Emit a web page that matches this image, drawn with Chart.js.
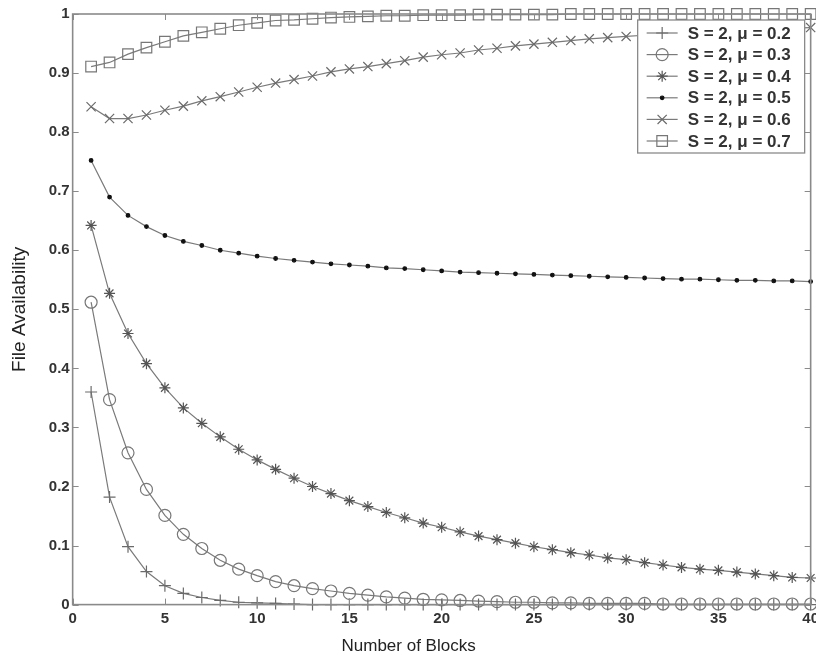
<!DOCTYPE html>
<html>
<head>
<meta charset="utf-8">
<style>
html, body { margin: 0; padding: 0; background: #fff; overflow: hidden; }
#wrap { width: 824px; height: 662px; }
</style>
</head>
<body>

<div id="wrap"><canvas id="myChart"></canvas></div>

<script src="https://cdn.jsdelivr.net/npm/chart.js"></script>
<script>
// data
let blocks = [1,2,3,4,5,6,7,8,9,10,11,12,13,14,15,16,17,18,19,20,
              21,22,23,24,25,26,27,28,29,30,31,32,33,34,35,36,37,38,39,40];

let mu02 = [0.360,0.182,0.098,0.056,0.032,0.019,0.012,0.007,0.004,0.003,
            0.002,0.001,0,0,0,0,0,0,0,0,
            0,0,0,0,0,0,0,0,0,0,
            0,0,0,0,0,0,0,0,0,0];
let mu03 = [0.512,0.347,0.257,0.195,0.151,0.119,0.095,0.075,0.060,0.049,
            0.039,0.032,0.027,0.023,0.019,0.016,0.013,0.011,0.009,0.008,
            0.007,0.006,0.005,0.004,0.004,0.003,0.003,0.002,0.002,0.002,
            0.002,0.001,0.001,0.001,0.001,0.001,0.001,0.001,0.001,0.001];
let mu04 = [0.642,0.527,0.459,0.408,0.367,0.333,0.307,0.284,0.263,0.245,
            0.229,0.214,0.200,0.188,0.176,0.166,0.156,0.147,0.138,0.131,
            0.123,0.116,0.110,0.104,0.098,0.093,0.088,0.084,0.079,0.076,
            0.071,0.067,0.063,0.060,0.058,0.055,0.052,0.049,0.046,0.045];
let mu05 = [0.752,0.690,0.659,0.640,0.625,0.615,0.608,0.600,0.595,0.590,
            0.586,0.583,0.580,0.577,0.575,0.573,0.570,0.569,0.567,0.565,
            0.563,0.562,0.561,0.560,0.559,0.558,0.557,0.556,0.555,0.554,
            0.553,0.552,0.551,0.551,0.550,0.549,0.549,0.548,0.548,0.547];
let mu06 = [0.843,0.823,0.823,0.829,0.837,0.844,0.853,0.860,0.868,0.876,
            0.883,0.889,0.895,0.902,0.907,0.911,0.916,0.921,0.927,0.931,
            0.934,0.939,0.942,0.946,0.949,0.952,0.955,0.958,0.960,0.962,
            0.964,0.966,0.968,0.969,0.971,0.972,0.973,0.975,0.976,0.977];
let mu07 = [0.911,0.918,0.932,0.943,0.953,0.963,0.969,0.975,0.981,0.985,
            0.989,0.990,0.992,0.994,0.995,0.996,0.997,0.997,0.998,0.998,
            0.998,0.999,0.999,0.999,0.999,0.999,1,1,1,1,
            1,1,1,1,1,1,1,1,1,1];

let seriesNames = ['S = 2, \u03bc = 0.2', 'S = 2, \u03bc = 0.3', 'S = 2, \u03bc = 0.4',
                   'S = 2, \u03bc = 0.5', 'S = 2, \u03bc = 0.6', 'S = 2, \u03bc = 0.7'];

let xTicks = [0,5,10,15,20,25,30,35,40];
let yTicks = [0,0.1,0.2,0.3,0.4,0.5,0.6,0.7,0.8,0.9,1];
let yTickLabels = ['0','0.1','0.2','0.3','0.4','0.5','0.6','0.7','0.8','0.9','1'];

const FONT = '"Liberation Sans", Arial, Helvetica, sans-serif';
const GREY = '#7a7a7a';

function pts(arr) {
    return blocks.map((b, i) => ({ x: b, y: arr[i] }));
}

function series(name, arr, style, radius, color, fill) {
    return {
        label: name,
        data: pts(arr),
        showLine: true,
        borderColor: GREY,
        borderWidth: 1.2,
        tension: 0,
        pointStyle: style,
        pointRadius: radius,
        pointBorderColor: color,
        pointBackgroundColor: fill || 'rgba(0,0,0,0)',
        pointBorderWidth: 1.2,
        clip: 10
    };
}

// MATLAB-like box, inward ticks and a legend inside the axes
const matlabAxes = {
    id: 'matlabAxes',
    afterDatasetsDraw(chart) {
        const ctx = chart.ctx;
        const a = chart.chartArea;
        const xs = chart.scales.x, ys = chart.scales.y;
        ctx.save();
        ctx.strokeStyle = '#8a8a8a';
        ctx.lineWidth = 1.6;
        ctx.strokeRect(a.left, a.top, a.right - a.left, a.bottom - a.top);
        ctx.lineWidth = 1;
        const t = 6;
        ctx.beginPath();
        xTicks.forEach(v => {
            const px = Math.round(xs.getPixelForValue(v)) + 0.5;
            ctx.moveTo(px, a.bottom); ctx.lineTo(px, a.bottom - t);
            ctx.moveTo(px, a.top); ctx.lineTo(px, a.top + t);
        });
        yTicks.forEach(v => {
            const py = Math.round(ys.getPixelForValue(v)) + 0.5;
            ctx.moveTo(a.left, py); ctx.lineTo(a.left + t, py);
            ctx.moveTo(a.right, py); ctx.lineTo(a.right - t, py);
        });
        ctx.stroke();

        // legend
        const bx = a.right - 173, by = a.top + 6, bw = 167, bh = 133;
        ctx.fillStyle = '#fff';
        ctx.fillRect(bx, by, bw, bh);
        ctx.strokeStyle = '#8a8a8a';
        ctx.lineWidth = 1.3;
        ctx.strokeRect(bx, by, bw, bh);
        ctx.font = 'bold 17px ' + FONT;
        ctx.textBaseline = 'middle';
        chart.data.datasets.forEach((ds, i) => {
            const ry = by + 13 + i * 21.6;
            ctx.strokeStyle = ds.borderColor;
            ctx.lineWidth = 1.2;
            ctx.beginPath();
            ctx.moveTo(bx + 9, ry); ctx.lineTo(bx + 40, ry);
            ctx.stroke();
            ctx.strokeStyle = ds.pointBorderColor;
            ctx.fillStyle = ds.pointBackgroundColor;
            ctx.lineWidth = ds.pointBorderWidth;
            Chart.helpers.drawPoint(ctx, { pointStyle: ds.pointStyle, radius: ds.pointRadius, borderWidth: ds.pointBorderWidth, rotation: 0 }, bx + 24.5, ry);
            ctx.fillStyle = '#333';
            ctx.fillText(ds.label, bx + 50, ry + 1);
        });
        ctx.restore();
    }
};

let ctx = document.getElementById('myChart').getContext('2d');
let chart = new Chart(ctx, {
    type: 'scatter',
    data: {
        datasets: [
            series(seriesNames[0], mu02, 'cross', 6, '#6a6a6a'),
            series(seriesNames[1], mu03, 'circle', 6, '#777'),
            series(seriesNames[2], mu04, 'star', 5.5, '#555'),
            series(seriesNames[3], mu05, 'circle', 1.8, '#111', '#111'),
            series(seriesNames[4], mu06, 'crossRot', 6.5, '#6a6a6a'),
            series(seriesNames[5], mu07, 'rect', 7.5, '#777')
        ]
    },
    options: {
        responsive: true,
        maintainAspectRatio: false,
        animation: false,
        layout: { padding: { top: 14, right: 3, left: 0, bottom: 0 } },
        plugins: {
            legend: { display: false },
            tooltip: { enabled: false }
        },
        scales: {
            x: {
                type: 'linear',
                min: 0,
                max: 40,
                afterBuildTicks: s => { s.ticks = xTicks.map(v => ({ value: v })); },
                ticks: { autoSkip: false, maxRotation: 0, padding: 5, color: '#333',
                         font: { family: FONT, size: 15, weight: 'bold' } },
                grid: { display: false, drawTicks: false },
                border: { display: false },
                // trailing spaces push the centred label left, as in the original figure
                title: { display: true, text: 'Number of Blocks' + ' '.repeat(14), color: '#222',
                         font: { family: FONT, size: 17 }, padding: { top: 4, bottom: 5 } }
            },
            y: {
                min: 0,
                max: 1,
                afterBuildTicks: s => { s.ticks = yTicks.map(v => ({ value: v })); },
                ticks: { autoSkip: false, padding: 3, color: '#333',
                         font: { family: FONT, size: 15, weight: 'bold' },
                         callback: (v, i) => yTickLabels[i] },
                grid: { display: false, drawTicks: false },
                border: { display: false },
                title: { display: true, text: 'File Availability', color: '#222',
                         font: { family: FONT, size: 19 }, padding: { top: 8.5, bottom: 14.5 } }
            }
        }
    },
    plugins: [matlabAxes]
});
</script>

</body>
</html>
